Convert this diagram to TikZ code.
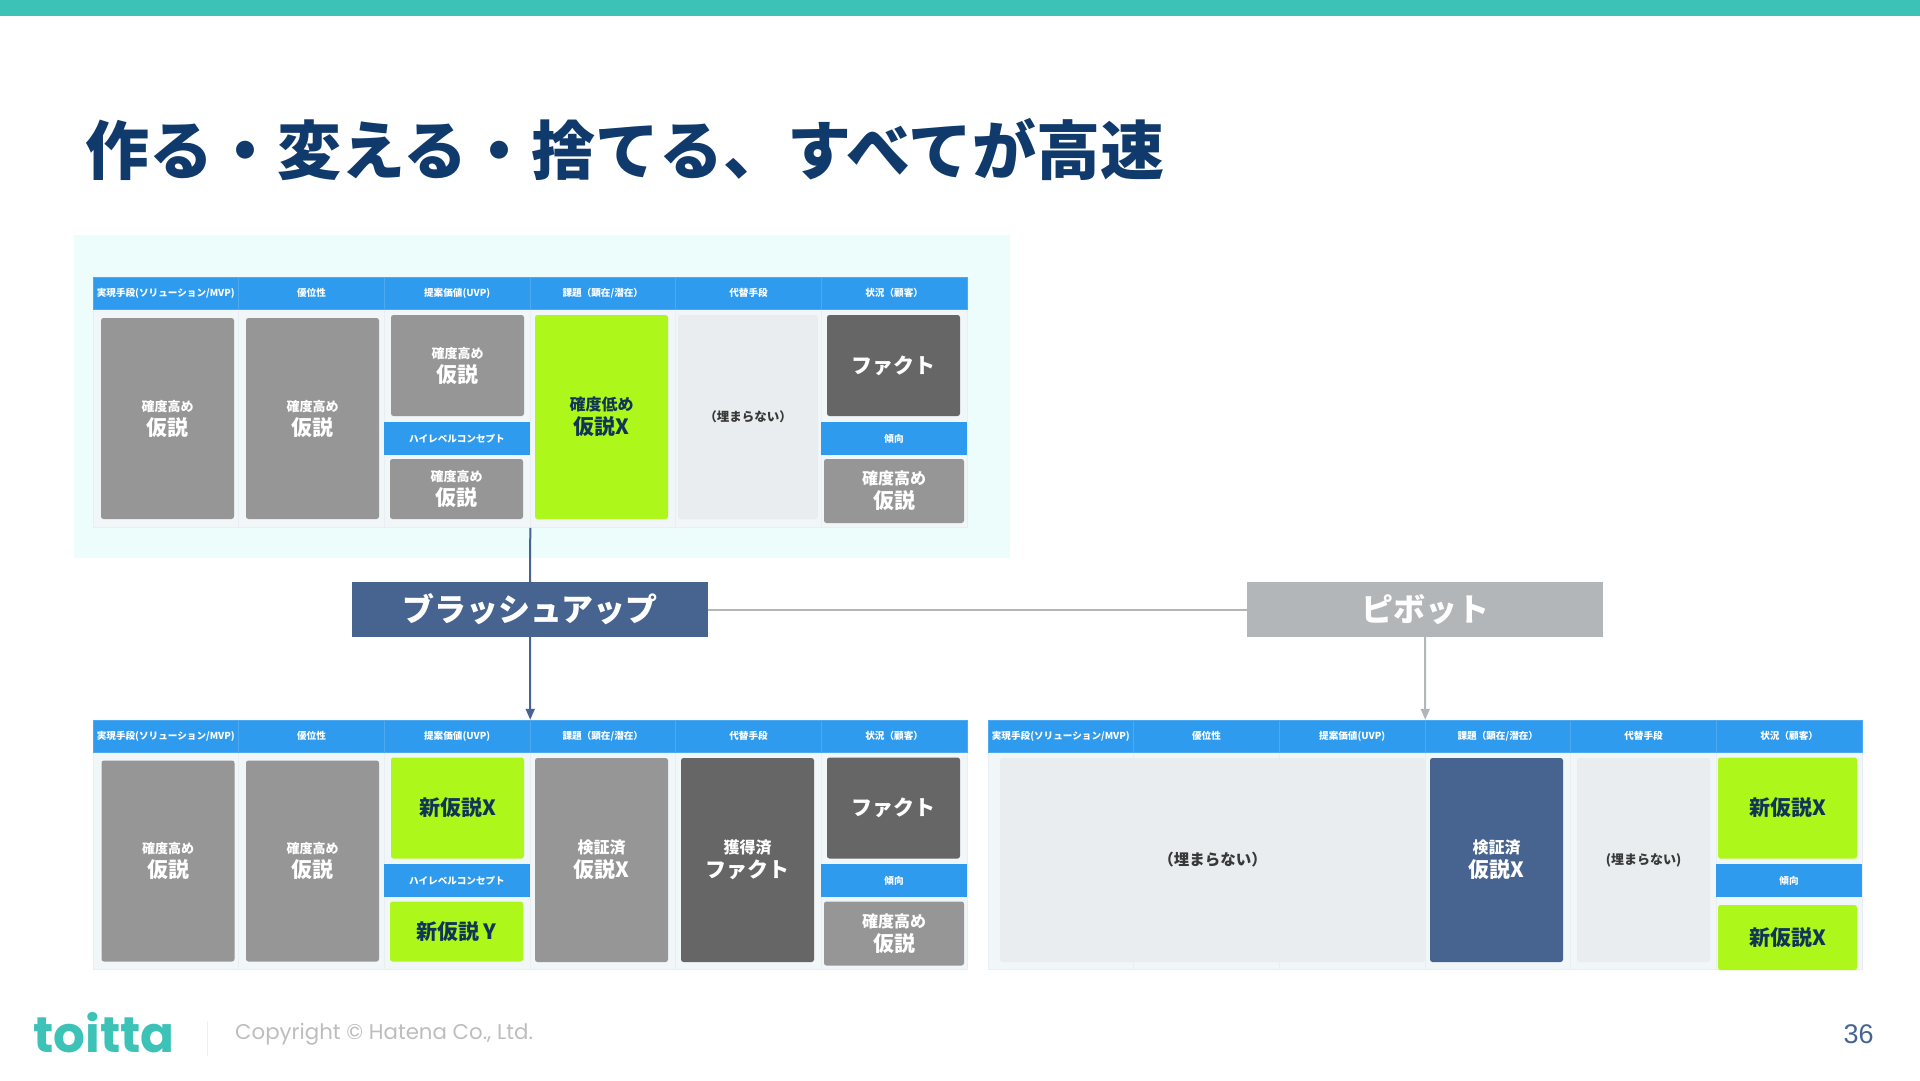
\documentclass[tikz,border=0pt]{standalone}
\usepackage{fontspec}
\usepackage{xcolor}
\usepackage{tikz}
\usetikzlibrary{arrows.meta, positioning, calc}
\setmainfont{Noto Sans CJK JP}
\newfontfamily\popfont{Poppins}
\newfontfamily\numfont{Liberation Sans}
\definecolor{teal}{HTML}{3DC2B8}
\definecolor{titleblue}{HTML}{0F3A6B}
\definecolor{panel}{HTML}{ECFDFC}
\definecolor{headblue}{HTML}{2E9BEE}
\definecolor{cellbg}{HTML}{F1F6F9}
\definecolor{celledge}{HTML}{E9EEF2}
\definecolor{hypogray}{HTML}{969696}
\definecolor{factgray}{HTML}{666666}
\definecolor{limegreen}{HTML}{AEF71B}
\definecolor{navy}{HTML}{46648F}
\definecolor{voidgray}{HTML}{E9EDEF}
\definecolor{pivotgray}{HTML}{B2B6B8}
\definecolor{inkblue}{HTML}{0F3557}
\newcommand{\sz}[2]{{\fontsize{#1}{#1}\selectfont #2}}

\begin{document}
\begin{tikzpicture}[x=1pt, y=-1pt, >=Latex]
    \tikzstyle{head}=[rectangle, draw=headblue!85!white, line width=0.5pt, fill=headblue, text=white, minimum width=145.67pt, minimum height=32pt, inner sep=0pt, align=center, font=\bfseries\fontsize{9.6}{10}\selectfont]
    \tikzstyle{cell}=[rectangle, draw=celledge, line width=0.6pt, fill=cellbg, minimum width=145.67pt, minimum height=218pt, inner sep=0pt]
    \tikzstyle{band}=[rectangle, fill=headblue, text=white, minimum width=146pt, minimum height=33pt, inner sep=0pt, align=center, font=\bfseries\fontsize{9.6}{10}\selectfont]
    \tikzstyle{card}=[rectangle, rounded corners=2.5pt, text=white, minimum width=133pt, minimum height=204pt, inner sep=0pt, align=center, font=\bfseries\fontsize{21}{24}\selectfont]
    \tikzstyle{hypo}=[card, fill=hypogray]
    \tikzstyle{fact}=[card, fill=factgray]
    \tikzstyle{fresh}=[card, fill=limegreen, text=inkblue]
    \tikzstyle{proved}=[card, fill=navy]
    \tikzstyle{void}=[card, fill=voidgray, text=black!78, font=\bfseries\fontsize{12.5}{13}\selectfont]
    \tikzstyle{action}=[rectangle, text=white, minimum width=356pt, minimum height=55pt, inner sep=0pt, font=\bfseries\fontsize{32}{32}\selectfont]
    \tikzstyle{brushflow}=[navy, line width=2pt]
    \tikzstyle{pivotflow}=[pivotgray, line width=2pt]
    \tikzstyle{tip}=[-{Triangle[length=11pt, width=9pt]}]

    \useasboundingbox (0,0) rectangle (1920,1080);
    \fill[teal] (0,0) rectangle (1920,16);
    \fill[panel] (74,235) rectangle (1010,558);

    \node[anchor=west, inner sep=0pt, text=titleblue, font=\bfseries\fontsize{64}{64}\selectfont] (title) at (85,150) {作る・変える・捨てる、すべてが高速};

    % current canvas
    \node[cell] (topcell1) at (165.83,418.5) {};
    \node[cell] (topcell2) at (311.5,418.5) {};
    \node[cell] (topcell3) at (457.17,418.5) {};
    \node[cell] (topcell4) at (602.83,418.5) {};
    \node[cell] (topcell5) at (748.5,418.5) {};
    \node[cell] (topcell6) at (894.17,418.5) {};
    \node[head] (tophead1) at (165.83,293) {実現手段(ソリューション/MVP)};
    \node[head] (tophead2) at (311.5,293) {優位性};
    \node[head] (tophead3) at (457.17,293) {提案価値(UVP)};
    \node[head] (tophead4) at (602.83,293) {課題（顕在/潜在）};
    \node[head] (tophead5) at (748.5,293) {代替手段};
    \node[head] (tophead6) at (894.17,293) {状況（顧客）};
    \node[hypo, minimum height=201pt] (topsol) at (167.5,418.5) {\sz{13}{確度高め}\\仮説};
    \node[hypo, minimum height=201pt] (topadv) at (312.5,418.5) {\sz{13}{確度高め}\\仮説};
    \node[hypo, minimum height=101pt] (topuvp) at (457.5,365.5) {\sz{13}{確度高め}\\仮説};
    \node[band] (topconcept) at (457,438.5) {ハイレベルコンセプト};
    \node[hypo, minimum height=60pt] (topuvpb) at (456.5,489) {\sz{13}{確度高め}\\仮説};
    \node[fresh] (topprob) at (601.5,417) {\sz{16}{確度低め}\\仮説X};
    \node[void, minimum width=140pt] (topalt) at (748,417) {（埋まらない）};
    \node[fact, minimum height=101pt] (topfact) at (893.5,365.5) {ファクト};
    \node[band] (toptrend) at (894,438.5) {傾向};
    \node[hypo, minimum width=140pt, minimum height=64pt] (toptrendb) at (894,491) {\sz{16}{確度高め}\\仮説};

    % brush up result
    \node[cell] (leftcell1) at (165.83,860.5) {};
    \node[cell] (leftcell2) at (311.5,860.5) {};
    \node[cell] (leftcell3) at (457.17,860.5) {};
    \node[cell] (leftcell4) at (602.83,860.5) {};
    \node[cell] (leftcell5) at (748.5,860.5) {};
    \node[cell] (leftcell6) at (894.17,860.5) {};
    \node[head] (lefthead1) at (165.83,736) {実現手段(ソリューション/MVP)};
    \node[head] (lefthead2) at (311.5,736) {優位性};
    \node[head] (lefthead3) at (457.17,736) {提案価値(UVP)};
    \node[head] (lefthead4) at (602.83,736) {課題（顕在/潜在）};
    \node[head] (lefthead5) at (748.5,736) {代替手段};
    \node[head] (lefthead6) at (894.17,736) {状況（顧客）};
    \node[hypo, minimum height=201pt] (leftsol) at (168,861) {\sz{13}{確度高め}\\仮説};
    \node[hypo, minimum height=201pt] (leftadv) at (312.5,861) {\sz{13}{確度高め}\\仮説};
    \node[fresh, minimum height=101pt] (leftuvp) at (457.5,808) {新仮説X};
    \node[band] (leftconcept) at (457,880.5) {ハイレベルコンセプト};
    \node[fresh, minimum height=60pt] (leftuvpb) at (456.5,931.5) {新仮説\,Y};
    \node[hypo] (leftprob) at (601.5,860) {\sz{16}{検証済}\\仮説X};
    \node[fact] (leftalt) at (747.5,860) {\sz{16}{獲得済}\\ファクト};
    \node[fact, minimum height=101pt] (leftfact) at (893.5,808) {ファクト};
    \node[band] (lefttrend) at (894,880.5) {傾向};
    \node[hypo, minimum width=140pt, minimum height=64pt] (lefttrendb) at (894,933.5) {\sz{16}{確度高め}\\仮説};

    % pivot result
    \node[cell] (rightcell1) at (1060.83,860.5) {};
    \node[cell] (rightcell2) at (1206.5,860.5) {};
    \node[cell] (rightcell3) at (1352.17,860.5) {};
    \node[cell] (rightcell4) at (1497.83,860.5) {};
    \node[cell] (rightcell5) at (1643.5,860.5) {};
    \node[cell] (rightcell6) at (1789.17,860.5) {};
    \node[head] (righthead1) at (1060.83,736) {実現手段(ソリューション/MVP)};
    \node[head] (righthead2) at (1206.5,736) {優位性};
    \node[head] (righthead3) at (1352.17,736) {提案価値(UVP)};
    \node[head] (righthead4) at (1497.83,736) {課題（顕在/潜在）};
    \node[head] (righthead5) at (1643.5,736) {代替手段};
    \node[head] (righthead6) at (1789.17,736) {状況（顧客）};
    \node[void, minimum width=425pt, font=\bfseries\fontsize{15.5}{16}\selectfont] (rightsol) at (1212.5,860) {（埋まらない）};
    \node[proved] (rightprob) at (1496.5,860) {\sz{16}{検証済}\\仮説X};
    \node[void, font=\bfseries\fontsize{13}{13}\selectfont] (rightalt) at (1643.5,860) {(埋まらない)};
    \node[fresh, minimum width=139pt, minimum height=101pt] (rightfact) at (1787.5,808) {新仮説X};
    \node[band] (righttrend) at (1789,880.5) {傾向};
    \node[fresh, minimum width=139pt, minimum height=65pt] (righttrendb) at (1787.5,937.5) {新仮説X};

    \node[action, fill=navy] (brush) at (530,609.5) {ブラッシュアップ};
    \node[action, fill=pivotgray] (pivot) at (1425,609.5) {ピボット};

    \draw[brushflow] (topcell3.south east) -- (brush.north);
    \draw[brushflow, tip] (brush.south) -- (lefthead3.north east);
    \draw[pivotflow] (brush.east) -- (pivot.west);
    \draw[pivotflow, tip] (pivot.south) -- (righthead3.north east);

    % footer
    \node[anchor=west, inner sep=0pt, text=teal, font=\popfont\bfseries\fontsize{50}{50}\selectfont] (logo) at (33,1033) {toitta};
    \coordinate (sepa) at (207,1021);
    \coordinate (sepb) at (207,1056);
    \draw[black!6, line width=0.8pt] (sepa) -- (sepb);
    \node[anchor=west, inner sep=0pt, text=black!26, font=\popfont\fontsize{21.3}{22}\selectfont] (copy) at (235,1034) {Copyright © Hatena Co., Ltd.};
    \node[inner sep=0pt, text=navy, font=\numfont\fontsize{27}{27}\selectfont] (page) at (1858.5,1034) {36};
\end{tikzpicture}
\end{document}
